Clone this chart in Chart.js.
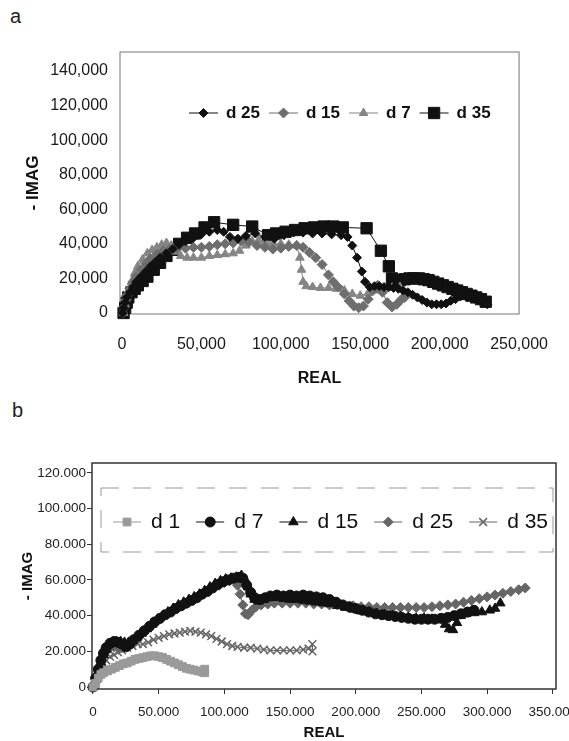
<!DOCTYPE html>
<html>
<head>
<meta charset="utf-8">
<script src="https://cdn.jsdelivr.net/npm/chart.js@4.4.1/dist/chart.umd.min.js"></script>
<style>
html, body { margin: 0; padding: 0; background: #fff; overflow: hidden; width: 569px; height: 741px; position: relative; }
.tag { position: absolute; font: 20px 'Liberation Sans', Arial, sans-serif; color: #222; }
#chartA { position: absolute; left: 0; top: 0; }
#chartB { position: absolute; left: 0; top: 400px; }
</style>
</head>
<body>
<div class="tag" style="left:10px;top:5px">a</div>
<div class="tag" style="left:12px;top:399px">b</div>
<canvas id="chartA" width="569" height="400"></canvas>
<canvas id="chartB" width="600" height="345"></canvas>
<script>
// ---- panel a ----
const aRealTicks = [0, 50000, 100000, 150000, 200000, 250000];
const aImagTicks = [0, 20000, 40000, 60000, 80000, 100000, 120000, 140000];

const aD25Real = [500,1000,2000,3000,5000,7000,9000,12000,15000,18000,21000,24000,28000,32000,36000,40000,45000,50000,55000,60000,64000,68000,73000,78000,84000,90000,96000,102000,108000,114000,120000,126000,132000,138000,142000,145000,148000,151000,153000,156000,159000,162000,165000,168000,171000,174000,177000,180000,183000,186000,189000,192000,195000,198000,201000,204000,207000,210000,213000,216000,219000,222000,225000,228000,230000];
const aD25Imag = [0,3000,6000,9000,12000,15000,18000,21000,24000,27000,29500,32000,34500,37000,39500,41500,43500,45500,47000,48000,47000,44000,43000,44500,46000,44000,43000,45000,46500,46500,46000,46000,45500,45000,44000,39000,32000,24000,18000,15000,15500,15500,15000,15000,14500,14000,13000,12000,10500,9000,7500,6000,5000,5000,5000,5500,7000,8000,9500,10000,9500,9000,7500,6000,5000];

const aD15Real = [500,1000,2000,3000,5000,7000,9000,12000,15000,18000,22000,26000,30000,35000,40000,45000,50000,55000,60000,65000,70000,75000,80000,85000,90000,95000,100000,105000,110000,114000,118000,122000,126000,130000,133000,136000,140000,143000,146000,149000,152000,155000,158000,161000,164000,167000,170000,173000,176000,178000];
const aD15Imag = [0,3000,7000,10000,14000,18000,21000,25000,28500,31500,34000,36000,37000,37500,37500,38000,38000,38500,39500,40000,40500,41500,41000,39000,38000,37000,37500,38500,39000,38000,35000,32000,28000,22000,18000,15000,11000,7000,4000,3000,4000,8000,13000,16000,12000,6000,3500,5000,8000,9000];

const aD7Real = [1000,2000,3000,4000,6000,8000,10000,13000,16000,19000,22000,25000,28000,31000,34000,37000,41000,45000,50000,55000,60000,65000,70000,74000,78000,82000,86000,90000,95000,100000,105000,110000,112000,113000,114000,116000,120000,125000,130000,135000,140000,145000,150000,155000,160000,165000,170000,175000];
const aD7Imag = [0,5000,9000,13000,18000,23000,27000,31000,34500,36500,38000,39500,40500,39000,35500,33000,32000,32000,32000,33000,33500,34000,34500,36000,39000,41500,42000,41000,40500,40000,39500,39000,32000,25000,18000,15500,15000,14500,14500,14000,13000,11000,10000,11500,13000,14000,14500,15000];

const aD35Real = [1000,2000,3000,4000,6000,8000,10000,13000,16000,20000,24000,28000,32000,36000,41000,46000,52000,58000,70000,82000,92000,97000,103000,109000,115000,121000,127000,133000,139000,154000,163000,168000,170000,172000,175000,178000,181000,184000,187000,190000,193000,196000,199000,202000,205000,208000,211000,214000,217000,220000,223000,226000,229000];
const aD35Imag = [0,3000,6000,9000,12000,14000,16000,18500,21000,25000,29000,33000,36500,40000,43500,46000,49500,52500,51000,50000,45000,46000,47000,48000,49000,49500,50000,50000,49500,49000,36000,27000,20000,19000,19000,19500,20000,20000,20000,19500,19000,18000,17000,16000,15000,14000,13000,12000,11000,10000,9000,8000,6500];

// ---- panel b ----
const bRealTicks = [0, 50000, 100000, 150000, 200000, 250000, 300000, 350000];
const bImagTicks = [0, 20000, 40000, 60000, 80000, 100000, 120000];

const bD1Real = [0,2000,4000,6000,8000,11000,14000,17000,20000,23000,26000,29000,32000,35000,38000,41000,44000,47000,50000,53000,56000,59000,62000,65000,68000,71000,74000,77000,80000,83000,85000,85000];
const bD1Imag = [0,2000,5000,7000,8000,9000,10000,11000,12000,13000,13500,14500,15500,16000,16500,17000,17500,17500,17000,16500,15500,14500,13500,12500,11500,10500,10000,9500,9000,8500,8000,10000];

const bD7Real = [0,2000,4000,6000,8000,10000,13000,16000,19000,22000,25000,28000,31000,35000,39000,43000,47000,51000,55000,59000,63000,67000,71000,75000,79000,83000,87000,91000,95000,99000,103000,107000,111000,114000,117000,120000,123000,127000,131000,135000,140000,145000,150000,155000,160000,165000,170000,175000,180000,185000,190000,195000,200000,205000,210000,215000,220000,225000,230000,235000,240000,245000,250000,255000,260000,265000,270000,275000,280000,285000,290000];
const bD7Imag = [0,5000,10000,15000,19000,22000,24500,25500,25000,24000,22500,24000,26500,29000,31500,34000,36500,38500,40500,42000,44000,45500,47000,48500,50000,52000,53500,55500,57500,59000,60000,61000,61500,61000,57000,53000,50000,49000,50000,51000,51500,51000,51500,51000,51500,51000,50500,50000,49000,47500,46000,45000,44000,43000,42000,41000,40500,40000,39500,39000,38500,38000,38000,38000,38000,38500,39000,40000,41000,42000,43000];

const bD15Real = [0,2000,4000,6000,8000,10000,12000,15000,18000,21000,24000,27000,30000,33000,37000,41000,45000,49000,53000,57000,61000,65000,69000,73000,77000,81000,85000,89000,93000,97000,101000,105000,109000,113000,116000,118000,120000,123000,126000,130000,135000,140000,145000,150000,155000,160000,165000,170000,175000,180000,186000,192000,198000,204000,210000,216000,222000,228000,234000,240000,246000,252000,258000,264000,268000,271000,274000,277000,280000,284000,290000,296000,302000,306000,310000];
const bD15Imag = [0,4000,9000,14000,18000,21000,23500,25000,25500,25500,25000,25000,26000,27500,30000,32500,35000,37500,40000,42000,44000,46000,47500,49000,50500,52000,54000,56000,58000,59500,60500,61000,61500,62500,60000,56000,52000,49000,48000,49000,50000,50000,49500,49000,49000,48500,48000,47500,47000,46500,45500,44500,43500,42500,42000,41000,40500,40000,39500,39000,38500,38500,38000,37500,35000,32500,32000,36000,40000,41000,41500,42000,43000,44000,47000];

const bD25Real = [0,2000,4000,6000,8000,10000,13000,16000,19000,22000,25000,28000,32000,36000,40000,44000,48000,52000,56000,60000,64000,68000,72000,76000,80000,84000,88000,92000,96000,100000,104000,107000,110000,112000,114000,116000,118000,121000,124000,128000,133000,138000,144000,150000,156000,162000,168000,174000,180000,186000,192000,198000,204000,210000,216000,222000,228000,234000,240000,246000,252000,258000,264000,270000,276000,282000,288000,294000,300000,306000,312000,318000,324000,329000];
const bD25Imag = [0,5000,10000,14000,18000,20000,22000,22500,22000,22000,23000,24500,27000,29500,32000,34500,36500,38500,40500,42500,44000,46000,47500,49000,51000,52500,54000,55500,57000,58500,59500,60000,57000,52000,46000,41000,40500,43000,45000,46000,46500,47000,47000,47000,47000,47000,46500,46500,46000,46000,45500,45500,45000,45000,44500,44500,44500,44500,44500,44500,44500,45000,45500,46000,46500,47500,48500,49500,50500,51500,52500,53500,54500,55500];

const bD35Real = [0,2000,4000,6000,8000,10000,13000,16000,19000,22000,26000,30000,34000,38000,42000,46000,50000,54000,58000,62000,66000,70000,74000,78000,82000,86000,90000,94000,98000,102000,106000,110000,115000,120000,125000,130000,135000,140000,145000,150000,155000,160000,164000,167000,167000];
const bD35Imag = [0,3000,7000,10000,13000,15000,17000,18000,19500,20500,22000,23000,24000,24000,25000,26500,27500,28500,29500,30000,30500,31000,31500,31000,30500,29500,28500,27000,25500,24000,23000,22500,22000,22000,21500,21000,20500,20500,20500,20500,20500,21000,21500,24000,20000];

const FONT = "'Liberation Sans', Arial, sans-serif";
Chart.defaults.font.family = FONT;

function pts(xs, ys) {
    return xs.map((x, i) => ({x: x, y: ys[i]}));
}

function series(label, xs, ys, color, style, radius, bw) {
    return {
        label: label,
        data: pts(xs, ys),
        showLine: true,
        borderColor: color,
        borderWidth: 1,
        backgroundColor: color,
        pointBackgroundColor: color,
        pointBorderColor: color,
        pointBorderWidth: bw || 1,
        pointStyle: style,
        pointRadius: radius,
        pointHoverRadius: radius,
        tension: 0,
        clip: false
    };
}

function fmt(v, sep) {
    return v === 0 ? '0' : Math.round(v / 1000) + sep + '000';
}

// rectangle round the plot area
const frame = {
    id: 'frame',
    beforeDatasetsDraw(chart, args, opts) {
        const {ctx, chartArea: {left, top, right, bottom}} = chart;
        ctx.save();
        ctx.strokeStyle = opts.color;
        ctx.lineWidth = opts.width;
        ctx.strokeRect(left, top, right - left, bottom - top);
        ctx.restore();
    }
};

// legend drawn inside the plot, line + marker + label
const insetLegend = {
    id: 'insetLegend',
    afterDatasetsDraw(chart, args, o) {
        const {ctx, chartArea} = chart;
        ctx.save();
        if (o.box) {
            ctx.setLineDash(o.box.dash);
            ctx.strokeStyle = o.box.color;
            ctx.lineWidth = 1;
            ctx.strokeRect(chartArea.left + o.box.x, chartArea.top + o.box.y, o.box.w, o.box.h);
            ctx.setLineDash([]);
        }
        ctx.font = o.weight + ' ' + o.size + 'px ' + FONT;
        ctx.textBaseline = 'middle';
        let x = chartArea.left + o.x;
        const y = chartArea.top + o.y;
        chart.data.datasets.forEach(ds => {
            ctx.strokeStyle = ds.borderColor;
            ctx.lineWidth = 1;
            ctx.beginPath();
            ctx.moveTo(x, y);
            ctx.lineTo(x + o.iconWidth, y);
            ctx.stroke();
            ctx.fillStyle = ds.pointBackgroundColor;
            ctx.strokeStyle = ds.pointBorderColor;
            ctx.lineWidth = ds.pointBorderWidth;
            Chart.helpers.drawPoint(ctx, {pointStyle: ds.pointStyle, radius: ds.pointRadius, borderWidth: ds.pointBorderWidth, rotation: 0}, x + o.iconWidth / 2, y);
            ctx.fillStyle = o.color;
            ctx.fillText(ds.label, x + o.iconWidth + o.textGap, y);
            x += o.iconWidth + o.textGap + ctx.measureText(ds.label).width + o.itemGap;
        });
        ctx.restore();
    }
};

new Chart(document.getElementById('chartA'), {
    type: 'scatter',
    data: {
        datasets: [
            series('d 25', aD25Real, aD25Imag, '#111', 'rectRot', 4.5),
            series('d 15', aD15Real, aD15Imag, '#6e6e6e', 'rectRot', 5),
            series('d 7', aD7Real, aD7Imag, '#858585', 'triangle', 5),
            series('d 35', aD35Real, aD35Imag, '#111', 'rect', 8)
        ]
    },
    options: {
        responsive: false,
        animation: false,
        layout: {padding: {left: 23, top: 52, right: 43, bottom: 12}},
        plugins: {
            legend: {display: false},
            tooltip: {enabled: false},
            frame: {color: '#777', width: 1},
            insetLegend: {x: 69, y: 61, size: 17, weight: 'bold', color: '#111', iconWidth: 29, textGap: 8, itemGap: 9}
        },
        scales: {
            x: {
                type: 'linear',
                min: -1240,
                max: 250000,
                afterBuildTicks: s => { s.ticks = aRealTicks.map(v => ({value: v})); },
                afterFit: s => { s.height = 74; },
                grid: {display: false, drawTicks: false},
                border: {display: false},
                ticks: {padding: 21, maxRotation: 0, autoSkip: false, color: '#1a1a1a', font: {size: 16}, callback: v => fmt(v, ',')},
                title: {display: true, text: 'REAL', color: '#111', padding: 0, font: {size: 16, weight: 'bold'}}
            },
            y: {
                type: 'linear',
                min: -600,
                max: 151000,
                afterBuildTicks: s => { s.ticks = aImagTicks.map(v => ({value: v})); },
                afterFit: s => { s.width = 97; },
                grid: {display: false, drawTicks: false},
                border: {display: false},
                ticks: {padding: 12, autoSkip: false, color: '#1a1a1a', font: {size: 16}, callback: v => fmt(v, ',')},
                title: {display: true, text: '- IMAG', color: '#111', padding: 0, font: {size: 17, weight: 'bold'}}
            }
        }
    },
    plugins: [frame, insetLegend]
});

new Chart(document.getElementById('chartB'), {
    type: 'scatter',
    data: {
        datasets: [
            series('d 1', bD1Real, bD1Imag, '#9a9a9a', 'rect', 5.5),
            series('d 7', bD7Real, bD7Imag, '#111', 'circle', 5),
            series('d 15', bD15Real, bD15Imag, '#111', 'triangle', 5.5),
            series('d 25', bD25Real, bD25Imag, '#666', 'rectRot', 5),
            series('d 35', bD35Real, bD35Imag, '#666', 'crossRot', 5.5, 1.5)
        ]
    },
    options: {
        responsive: false,
        animation: false,
        layout: {padding: {left: 19, top: 63, right: 44, bottom: 3}},
        plugins: {
            legend: {display: false},
            tooltip: {enabled: false},
            frame: {color: '#333', width: 1.5},
            insetLegend: {
                x: 21, y: 59, size: 21, weight: 'normal', color: '#111', iconWidth: 28, textGap: 10, itemGap: 16,
                box: {x: 9, y: 25, w: 452, h: 64, dash: [18, 14], color: '#999'}
            }
        },
        scales: {
            x: {
                type: 'linear',
                min: -760,
                max: 352400,
                afterBuildTicks: s => { s.ticks = bRealTicks.map(v => ({value: v})); },
                afterFit: s => { s.height = 53; },
                grid: {display: true, drawOnChartArea: false, drawTicks: true, tickLength: 5, color: '#333'},
                border: {display: false},
                ticks: {padding: 10, maxRotation: 0, autoSkip: false, color: '#222', font: {size: 13.5}, callback: v => fmt(v, '.')},
                title: {display: true, text: 'REAL', color: '#111', padding: 0, font: {size: 15, weight: 'bold'}}
            },
            y: {
                type: 'linear',
                min: -1100,
                max: 125500,
                afterBuildTicks: s => { s.ticks = bImagTicks.map(v => ({value: v})); },
                afterFit: s => { s.width = 73; },
                grid: {display: true, drawOnChartArea: false, drawTicks: true, tickLength: 5, color: '#333'},
                border: {display: false},
                ticks: {padding: 1, autoSkip: false, color: '#222', font: {size: 13.5}, callback: v => fmt(v, '.')},
                title: {display: true, text: '- IMAG', color: '#111', padding: 0, font: {size: 15, weight: 'bold'}}
            }
        }
    },
    plugins: [frame, insetLegend]
});
</script>
</body>
</html>
